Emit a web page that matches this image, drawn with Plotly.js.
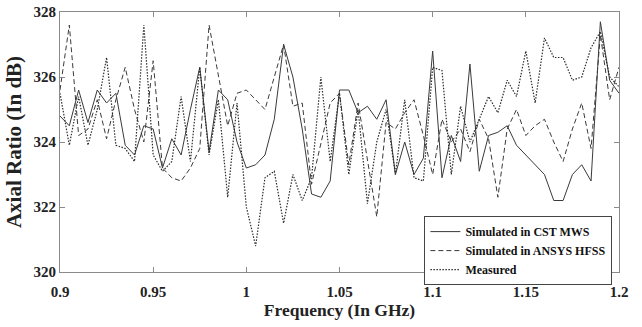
<!DOCTYPE html>
<html>
<head>
<meta charset="utf-8">
<script src="https://cdn.plot.ly/plotly-3.0.1.min.js"></script>
<style>html,body{margin:0;padding:0;background:#fff;}#chart{width:642px;height:327px;}</style>
</head>
<body>
<div id="chart"></div>
<script>
// Frequency grid (GHz)
const freq = [0.900,0.905,0.910,0.915,0.920,0.925,0.930,0.935,0.940,0.945,
              0.950,0.955,0.960,0.965,0.970,0.975,0.980,0.985,0.990,0.995,
              1.000,1.005,1.010,1.015,1.020,1.025,1.030,1.035,1.040,1.045,
              1.050,1.055,1.060,1.065,1.070,1.075,1.080,1.085,1.090,1.095,
              1.100,1.105,1.110,1.115,1.120,1.125,1.130,1.135,1.140,1.145,
              1.150,1.155,1.160,1.165,1.170,1.175,1.180,1.185,1.190,1.195,1.200];

// Simulated in CST MWS (solid)
const cst = [324.8,324.5,325.6,324.6,325.6,325.2,325.5,323.9,323.6,324.5,
             324.4,323.2,324.1,323.6,325.0,326.3,323.7,325.6,325.3,324.0,
             323.2,323.3,323.6,324.7,327.0,326.0,324.4,322.4,322.3,322.8,
             325.6,325.6,324.9,325.1,324.7,325.3,323.0,324.0,323.0,323.5,
             326.8,322.9,324.2,323.4,326.4,323.1,324.2,324.3,324.5,323.9,
             323.6,323.3,323.0,322.2,322.2,323.0,323.3,322.8,327.7,325.9,325.5];

// Simulated in ANSYS HFSS (dashed)
const hfss = [325.6,327.6,324.2,324.4,325.3,324.1,325.3,326.3,325.0,324.0,
              326.5,323.2,322.9,322.8,323.2,323.8,327.6,326.1,324.5,325.5,
              325.6,325.3,325.0,326.0,327.0,325.1,325.2,322.7,324.0,325.2,
              325.5,323.3,325.2,323.5,321.7,324.6,324.4,324.9,325.3,324.2,
              323.0,324.7,324.0,324.4,323.7,324.7,324.1,322.3,324.4,325.0,
              324.2,324.5,324.7,324.0,323.4,324.4,325.2,323.8,327.3,325.3,326.3];

// Measured (dotted)
const measured = [325.5,323.9,325.4,323.9,325.0,326.6,323.9,323.8,323.4,327.6,
                  323.6,323.1,323.4,325.4,323.4,326.3,323.6,325.3,322.3,325.2,
                  322.0,320.8,322.9,323.1,321.5,323.0,322.2,322.9,326.0,323.4,
                  325.5,323.0,325.0,322.1,324.0,325.0,323.0,325.3,322.9,322.8,
                  326.3,326.2,323.0,325.1,324.0,324.7,325.4,324.9,325.9,325.4,
                  326.8,325.2,327.2,326.6,326.6,325.9,326.0,326.9,327.4,326.0,325.7];

const seriesNames = ["Simulated in CST MWS", "Simulated in ANSYS HFSS", "Measured"];
const xTicks = [0.9,0.95,1,1.05,1.1,1.15,1.2];
const xTickText = ["0.9","0.95","1","1.05","1.1","1.15","1.2"];
const yTicks = [320,322,324,326,328];

const serif = "Liberation Serif, Times New Roman, serif";

const traces = [
  {x: freq, y: cst, name: seriesNames[0], mode: "lines", line: {color: "#3a3a3a", width: 1, dash: "solid"}},
  {x: freq, y: hfss, name: seriesNames[1], mode: "lines", line: {color: "#3a3a3a", width: 1, dash: "5px,3px"}},
  {x: freq, y: measured, name: seriesNames[2], mode: "lines", line: {color: "#2a2a2a", width: 1.2, dash: "1.5px,1.5px"}}
];

const axisCommon = {
  showgrid: false, zeroline: false, showline: true, mirror: "ticks",
  linecolor: "#8a8a8a", linewidth: 1, ticks: "inside", ticklen: 5, tickcolor: "#8a8a8a",
  tickfont: {family: serif, size: 15, color: "#222"}
};

const layout = {
  width: 642, height: 327,
  margin: {l: 60, r: 23, t: 12, b: 55},
  paper_bgcolor: "#fff", plot_bgcolor: "#fff",
  font: {family: serif, color: "#222"},
  xaxis: Object.assign({}, axisCommon, {
    range: [0.9, 1.2], tickvals: xTicks, ticktext: xTickText.map(t => "<b>" + t + "</b>"),
    ticklabelstandoff: 6,
    title: {text: "<b>Frequency (In GHz)</b>", font: {family: serif, size: 17.5, color: "#222"}, standoff: 4}
  }),
  yaxis: Object.assign({}, axisCommon, {
    range: [320, 328], tickvals: yTicks, ticktext: yTicks.map(v => "<b>" + v + "</b>"),
    title: {text: "<b>Axial Ratio (In dB)</b>", font: {family: serif, size: 21, color: "#222"}, standoff: 6}
  }),
  showlegend: true,
  legend: {
    x: 0.82, y: 0.215, xanchor: "center", yanchor: "top",
    bgcolor: "#fff", bordercolor: "#444", borderwidth: 1,
    font: {family: serif, size: 12, color: "#111", weight: "bold"},
    itemwidth: 30, tracegroupgap: 0
  }
};

Plotly.newPlot("chart", traces, layout, {displayModeBar: false, staticPlot: true});
</script>
</body>
</html>
